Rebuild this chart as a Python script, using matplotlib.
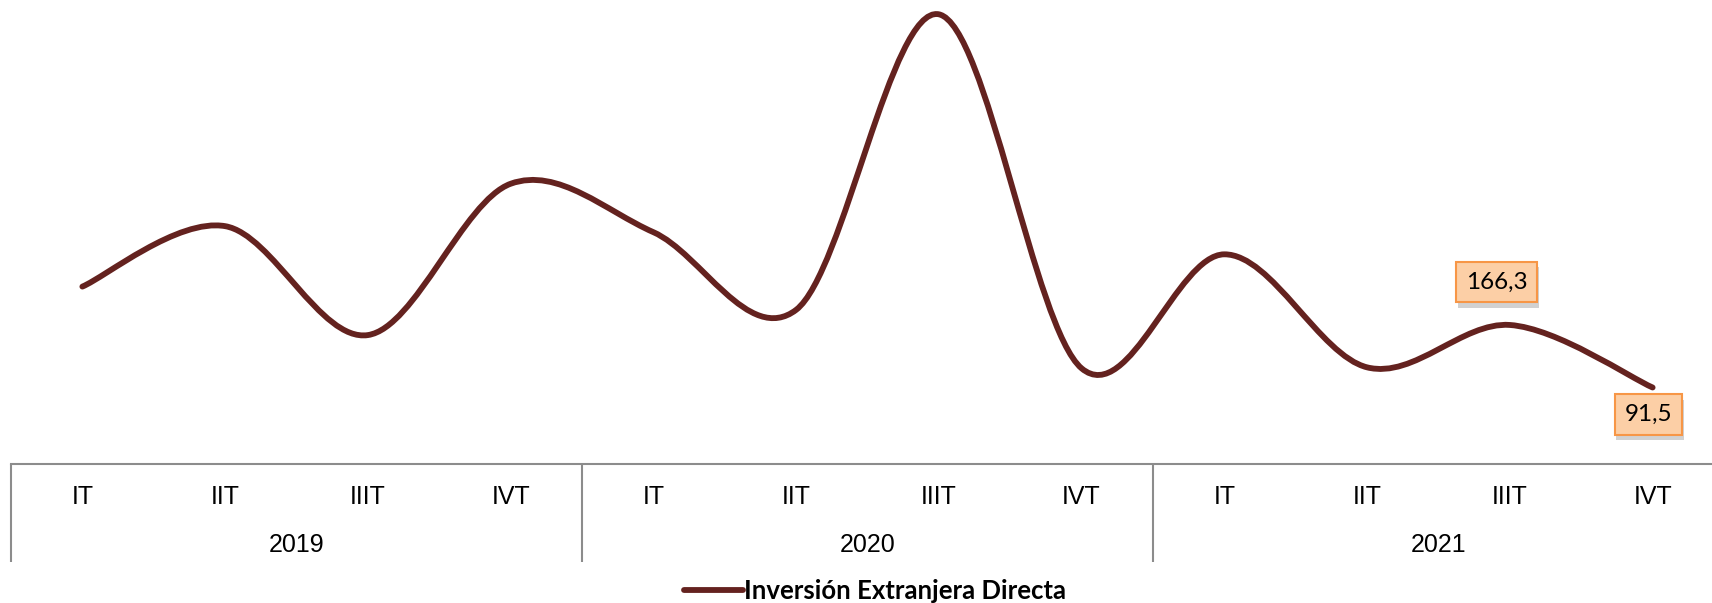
import matplotlib
matplotlib.use("Agg")
import matplotlib.pyplot as plt
import numpy as np
from matplotlib.path import Path
from matplotlib.patches import PathPatch
from matplotlib.lines import Line2D
import matplotlib.patheffects as pe

# ---- data ----
years = ["2019", "2020", "2021"]
quarters = ["IT", "IIT", "IIIT", "IVT"]
values = [212.2, 284.5, 154.2, 335.2, 277.3, 184.4, 537.9, 114.4, 250.8, 115.6, 166.3, 91.5]
labeled_idx = [10, 11]
label_texts = ["166,3", "91,5"]
series_name = "Inversión Extranjera Directa"

LINE_COLOR = "#64221F"
NARROW = ["Liberation Sans Narrow", "Liberation Sans", "DejaVu Sans"]

W, H = 1712, 603
fig = plt.figure(figsize=(W / 100, H / 100), dpi=100)
ax_left, ax_right = 11, 1724
ax_bottom, ax_top = 464, 0
ax = fig.add_axes([ax_left / W, (H - ax_bottom) / H, (ax_right - ax_left) / W, (ax_bottom - ax_top) / H])
ax.set_xlim(-0.5, len(values) - 0.5)
ax.set_ylim(0, 555)
for s in ["top", "right", "left"]:
    ax.spines[s].set_visible(False)
ax.spines["bottom"].set_color("#8c8c8c")
ax.spines["bottom"].set_linewidth(1.5)
ax.set_xticks([])
ax.set_yticks([])

# smooth line (Excel-like Bezier smoothing) built from the data points
x = np.arange(len(values), dtype=float)
y = np.array(values, dtype=float)
verts = [(x[0], y[0])]
codes = [Path.MOVETO]
n = len(x)
for i in range(n - 1):
    p0 = np.array([x[max(i - 1, 0)], y[max(i - 1, 0)]])
    p1 = np.array([x[i], y[i]])
    p2 = np.array([x[i + 1], y[i + 1]])
    p3 = np.array([x[min(i + 2, n - 1)], y[min(i + 2, n - 1)]])
    c1 = p1 + (p2 - p0) / 6.0
    c2 = p2 - (p3 - p1) / 6.0
    verts += [tuple(c1), tuple(c2), tuple(p2)]
    codes += [Path.CURVE4] * 3
patch = PathPatch(Path(verts, codes), fill=False, edgecolor=LINE_COLOR, lw=4.2,
                  capstyle="round", joinstyle="round")
ax.add_patch(patch)

# data labels
offsets = {10: (-13, 43), 11: (-4, -27)}
for idx, txt in zip(labeled_idx, label_texts):
    dx, dy = offsets[idx]
    t = ax.annotate(txt, (x[idx], y[idx]), xytext=(dx, dy), textcoords="offset pixels",
                    ha="center", va="center", fontsize=17.5, family=["Lato", "DejaVu Sans"],
                    color="black",
                    bbox=dict(boxstyle="square,pad=0.4", facecolor="#FCCFA6",
                              edgecolor="#F79646", linewidth=1.5))
    t.get_bbox_patch().set_path_effects([
        pe.SimplePatchShadow(offset=(1, -4), shadow_rgbFace="#9a9a9a", alpha=0.45),
        pe.Normal()])

# multi-level category axis
xt = ax.get_xaxis_transform()
for i in range(n):
    ax.annotate(quarters[i % 4], (x[i], 0), xycoords=xt, xytext=(0, -33),
                textcoords="offset pixels", ha="center", va="center",
                fontsize=18, family=NARROW, color="black", annotation_clip=False)
for k, yr in enumerate(years):
    cx = 4 * k + 1.5
    ax.annotate(yr, (cx, 0), xycoords=xt, xytext=(0, -81),
                textcoords="offset pixels", ha="center", va="center",
                fontsize=18, family=NARROW, color="black", annotation_clip=False)
sep_frac = 98 / (ax_bottom - ax_top)
for k in range(len(years) + 1):
    sx = 4 * k - 0.5
    ax.plot([sx, sx], [0, -sep_frac], transform=xt, color="#8c8c8c", lw=1.5,
            clip_on=False, solid_capstyle="butt")

# legend
handle = Line2D([], [], color=LINE_COLOR, lw=4.2, solid_capstyle="round")
fig.legend([handle], [series_name], loc="center", bbox_to_anchor=(875 / W, 1 - 591 / H),
           frameon=False, handlelength=2.3, handletextpad=0.05,
           prop=dict(family=["Lato", "DejaVu Sans"], weight="bold", size=18.5))

fig.savefig("out.png", dpi=100)
